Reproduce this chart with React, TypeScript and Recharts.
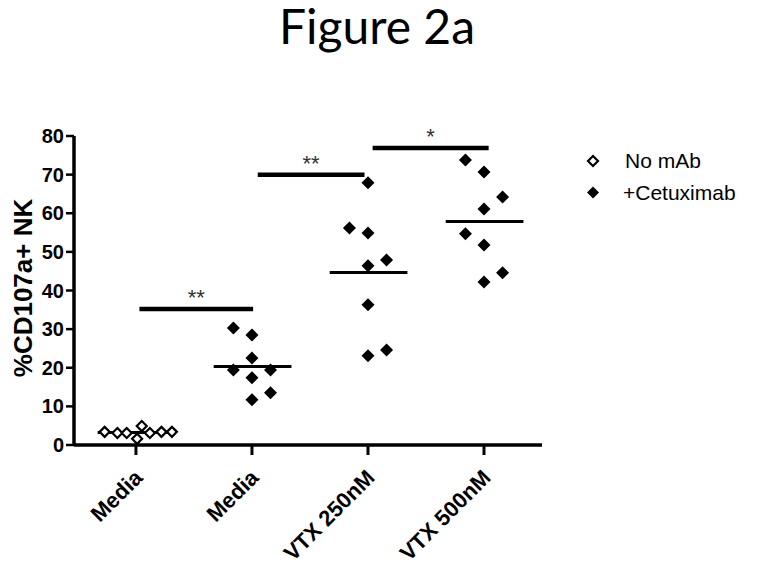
import React from "react";
import {
  ScatterChart,
  Scatter,
  XAxis,
  YAxis,
  ReferenceLine,
  ReferenceDot,
  Label,
} from "recharts";

const categories = ["Media", "Media", "VTX 250nM", "VTX 500nM"];
const yTicks = [0, 10, 20, 30, 40, 50, 60, 70, 80];

// No mAb, media only
const noMab = [3.4, 3.1, 3.1, 1.6, 4.9, 3.1, 3.4, 3.4];
const noMabJitter = [-0.27, -0.16, -0.08, 0.01, 0.05, 0.12, 0.22, 0.31];

// +Cetuximab groups
const cetuxMedia = [30.3, 28.5, 22.5, 19.4, 19.4, 17.4, 13.5, 11.7];
const cetuxMediaJitter = [-0.16, 0, 0, -0.16, 0.16, 0, 0.16, 0];
const vtx250 = [67.9, 56.2, 54.9, 47.9, 46.4, 36.3, 24.6, 23.1];
const vtx250Jitter = [0, -0.16, 0, 0.16, 0, 0, 0.16, 0];
const vtx500 = [73.8, 70.7, 64.2, 61.1, 54.7, 51.8, 44.6, 42.2];
const vtx500Jitter = [-0.16, 0, 0.16, 0, -0.16, 0, 0.16, 0];

// significance brackets
const sigFrom = [1.03, 2.05, 3.04];
const sigTo = [2.01, 2.97, 4.04];
const sigY = [35.2, 70, 76.9];
const sigLabels = ["**", "**", "*"];

const FONT = "'Liberation Sans', Arial, sans-serif";

const toPoints = (pos: number, values: number[], jitter: number[]) =>
  values.map((v, i) => ({ x: pos + jitter[i], y: v }));

const noMabData = toPoints(1, noMab, noMabJitter);
const cetuxData = [
  ...toPoints(2, cetuxMedia, cetuxMediaJitter),
  ...toPoints(3, vtx250, vtx250Jitter),
  ...toPoints(4, vtx500, vtx500Jitter),
];

const groups = [noMab, cetuxMedia, vtx250, vtx500];
const mean = (a: number[]) => a.reduce((s, v) => s + v, 0) / a.length;

const FilledDiamond = (props: any) => {
  const { cx, cy } = props;
  const r = 6.5;
  return (
    <path
      d={`M${cx},${cy - r}L${cx + r},${cy}L${cx},${cy + r}L${cx - r},${cy}Z`}
      fill="#000"
    />
  );
};

const OpenDiamond = (props: any) => {
  const { cx, cy } = props;
  const r = 5;
  return (
    <path
      d={`M${cx},${cy - r}L${cx + r},${cy}L${cx},${cy + r}L${cx - r},${cy}Z`}
      fill="#fff"
      stroke="#000"
      strokeWidth={2.2}
    />
  );
};

const XTick = (props: any) => {
  const { x, y, payload } = props;
  const label = categories[Math.round(payload.value) - 1];
  const ax = x + 8;
  const ay = y + 22;
  return (
    <text
      x={ax}
      y={ay}
      textAnchor="end"
      transform={`rotate(-45, ${ax}, ${ay})`}
      fontSize={22}
      fontWeight="bold"
      fontFamily={FONT}
      fill="#000"
    >
      {label}
    </text>
  );
};

export default function App() {
  return (
    <div style={{ position: "absolute", left: 0, top: 0, width: 762, height: 567, background: "#fff" }}>
      <ScatterChart
        width={762}
        height={567}
        margin={{ top: 136, right: 220, bottom: 62, left: 0 }}
      >
        <XAxis
          type="number"
          dataKey="x"
          domain={[0.466, 4.5]}
          ticks={[1, 2, 3, 4]}
          interval={0}
          allowDataOverflow
          height={60}
          tick={<XTick />}
          tickSize={10}
          axisLine={{ stroke: "#000", strokeWidth: 3.5 }}
          tickLine={{ stroke: "#000", strokeWidth: 3 }}
        />
        <YAxis
          type="number"
          dataKey="y"
          domain={[0, 80]}
          ticks={yTicks}
          width={74}
          tickSize={8}
          tickMargin={2}
          interval={0}
          tick={{ fontSize: 20, fontWeight: "bold", fontFamily: FONT, fill: "#000" }}
          axisLine={{ stroke: "#000", strokeWidth: 3.5 }}
          tickLine={{ stroke: "#000", strokeWidth: 2.5 }}
        >
          <Label
            content={() => (
              <text
                x={32}
                y={288}
                textAnchor="middle"
                transform="rotate(-90, 32, 288)"
                fontSize={26}
                fontWeight="bold"
                fontFamily={FONT}
                fill="#000"
              >
                %CD107a+ NK
              </text>
            )}
          />
        </YAxis>
        {groups.map((g, i) => (
          <ReferenceLine
            key={`mean-${i}`}
            segment={[
              { x: i + 1 - 0.33, y: mean(g) },
              { x: i + 1 + 0.34, y: mean(g) },
            ]}
            stroke="#000"
            strokeWidth={3}
            ifOverflow="visible"
          />
        ))}
        {sigY.map((y, i) => (
          <ReferenceLine
            key={`sig-${i}`}
            segment={[
              { x: sigFrom[i], y },
              { x: sigTo[i], y },
            ]}
            stroke="#000"
            strokeWidth={4.5}
            ifOverflow="visible"
          />
        ))}
        {sigY.map((y, i) => (
          <ReferenceDot
            key={`star-${i}`}
            x={(sigFrom[i] + sigTo[i]) / 2}
            y={y}
            r={0}
            fill="none"
            stroke="none"
            ifOverflow="visible"
            label={{
              value: sigLabels[i],
              position: "top",
              offset: 4,
              fontSize: 22,
              fontFamily: FONT,
              fill: "#333",
            }}
          />
        ))}
        <Scatter
          name="No mAb"
          data={noMabData}
          shape={<OpenDiamond />}
          isAnimationActive={false}
        />
        <Scatter
          name="+Cetuximab"
          data={cetuxData}
          shape={<FilledDiamond />}
          isAnimationActive={false}
        />
      </ScatterChart>
      <svg
        width={762}
        height={567}
        style={{ position: "absolute", left: 0, top: 0, pointerEvents: "none" }}
      >
        <text x={377} y={44} textAnchor="middle" fontSize={48} fontFamily="Lato, 'Open Sans', sans-serif" fill="#000">
          Figure 2a
        </text>
        <g transform="translate(580, 145)">
          <path d="M13,11L18,16L13,21L8,16Z" fill="#fff" stroke="#000" strokeWidth={2.2} />
          <text x={45} y={23} fontSize={21} fontFamily={FONT} fill="#000">
            No mAb
          </text>
          <path d="M13,41.5L19,47.5L13,53.5L7,47.5Z" fill="#000" />
          <text x={43} y={55} fontSize={21} fontFamily={FONT} fill="#000">
            +Cetuximab
          </text>
        </g>
      </svg>
    </div>
  );
}
